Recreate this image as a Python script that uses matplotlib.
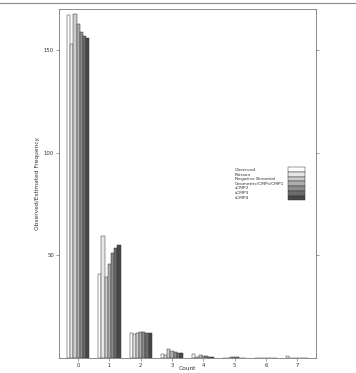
import matplotlib
matplotlib.use("Agg")
import matplotlib.pyplot as plt
import numpy as np
from matplotlib.patches import Rectangle
from matplotlib.lines import Line2D

counts = ["0", "1", "2", "3", "4", "5", "6", "7"]
series = ["Observed", "Poisson", "Negative Binomial", "Geometric/CMPs/CMP1",
          "sCMP2", "sCMP3", "sCMP4"]
observed = [167, 41, 12, 2, 2, 0, 0, 1]
poisson = [153, 59.4, 11.5, 1.6, 0.3, 0.05, 0.0, 0.0]
negbin = [167.5, 39.3, 12.3, 4.4, 1.4, 0.5, 0.2, 0.1]
geometric = [162.6, 45.6, 12.7, 3.6, 1.1, 0.35, 0.12, 0.04]
scmp2 = [158.7, 51.3, 12.6, 3.1, 0.75, 0.25, 0.08, 0.03]
scmp3 = [156.8, 53.4, 12.4, 2.6, 0.55, 0.18, 0.06, 0.02]
scmp4 = [155.8, 54.9, 12.2, 2.4, 0.45, 0.15, 0.05, 0.02]
values = [observed, poisson, negbin, geometric, scmp2, scmp3, scmp4]
colors = ["#FFFFFF", "#E6E6E6", "#CCCCCC", "#ADADAD", "#8C8C8C", "#6B6B6B", "#474747"]
yticks = [50, 100, 150]

fig = plt.figure(figsize=(3.56, 3.73), dpi=100)
ax = fig.add_axes([59/356, 1 - 358/373, (316 - 59)/356, (358 - 9)/373])

x = np.arange(len(counts))
nser = len(series)
group_w = 0.71
bw = group_w / nser
for i, (vals, c) in enumerate(zip(values, colors)):
    ax.bar(x - group_w/2 + bw*(i + 0.5), vals, width=bw, color=c,
           edgecolor="#333333", linewidth=0.35)

ax.set_xlim(-0.61, 7.6)
ax.set_ylim(0, 170)
ax.set_xticks(x)
ax.set_xticklabels(counts)
ax.set_yticks(yticks)
ax.set_yticklabels([str(t) for t in yticks])
ax.tick_params(axis="both", labelsize=3.8, length=2.5, width=0.4, colors="#555555",
               labelcolor="#333333", pad=1.2)
ax.tick_params(axis="y", right=True, labelright=False)
for sp in ax.spines.values():
    sp.set_color("#777777")
    sp.set_linewidth(0.6)
fig.text(0.5*(59 + 316)/356, 1 - 368.5/373, "Count", fontsize=4.2, color="#333333",
         ha="center", va="center")
ax.set_ylabel("Observed/Estimated Frequency", fontsize=4.2, color="#333333", labelpad=3)

# legend (lattice-style: text left, stacked boxes right)
ty0 = 1 - 170/373
dy = 4.6/373
for i, (name, c) in enumerate(zip(series, colors)):
    fig.text(235/356, ty0 - i*dy, name, fontsize=3.2, color="#333333",
             ha="left", va="center")
    yb = 1 - (167.3 + (i + 1)*4.7)/373
    fig.patches.append(Rectangle((288/356, yb), 17/356, 4.7/373,
                                 transform=fig.transFigure, facecolor=c,
                                 edgecolor="#333333", linewidth=0.35))

fig.lines.append(Line2D([0, 1], [1 - 2.5/373, 1 - 2.5/373], transform=fig.transFigure,
                        color="#888888", linewidth=0.8))

fig.savefig("out.png", dpi=100)
